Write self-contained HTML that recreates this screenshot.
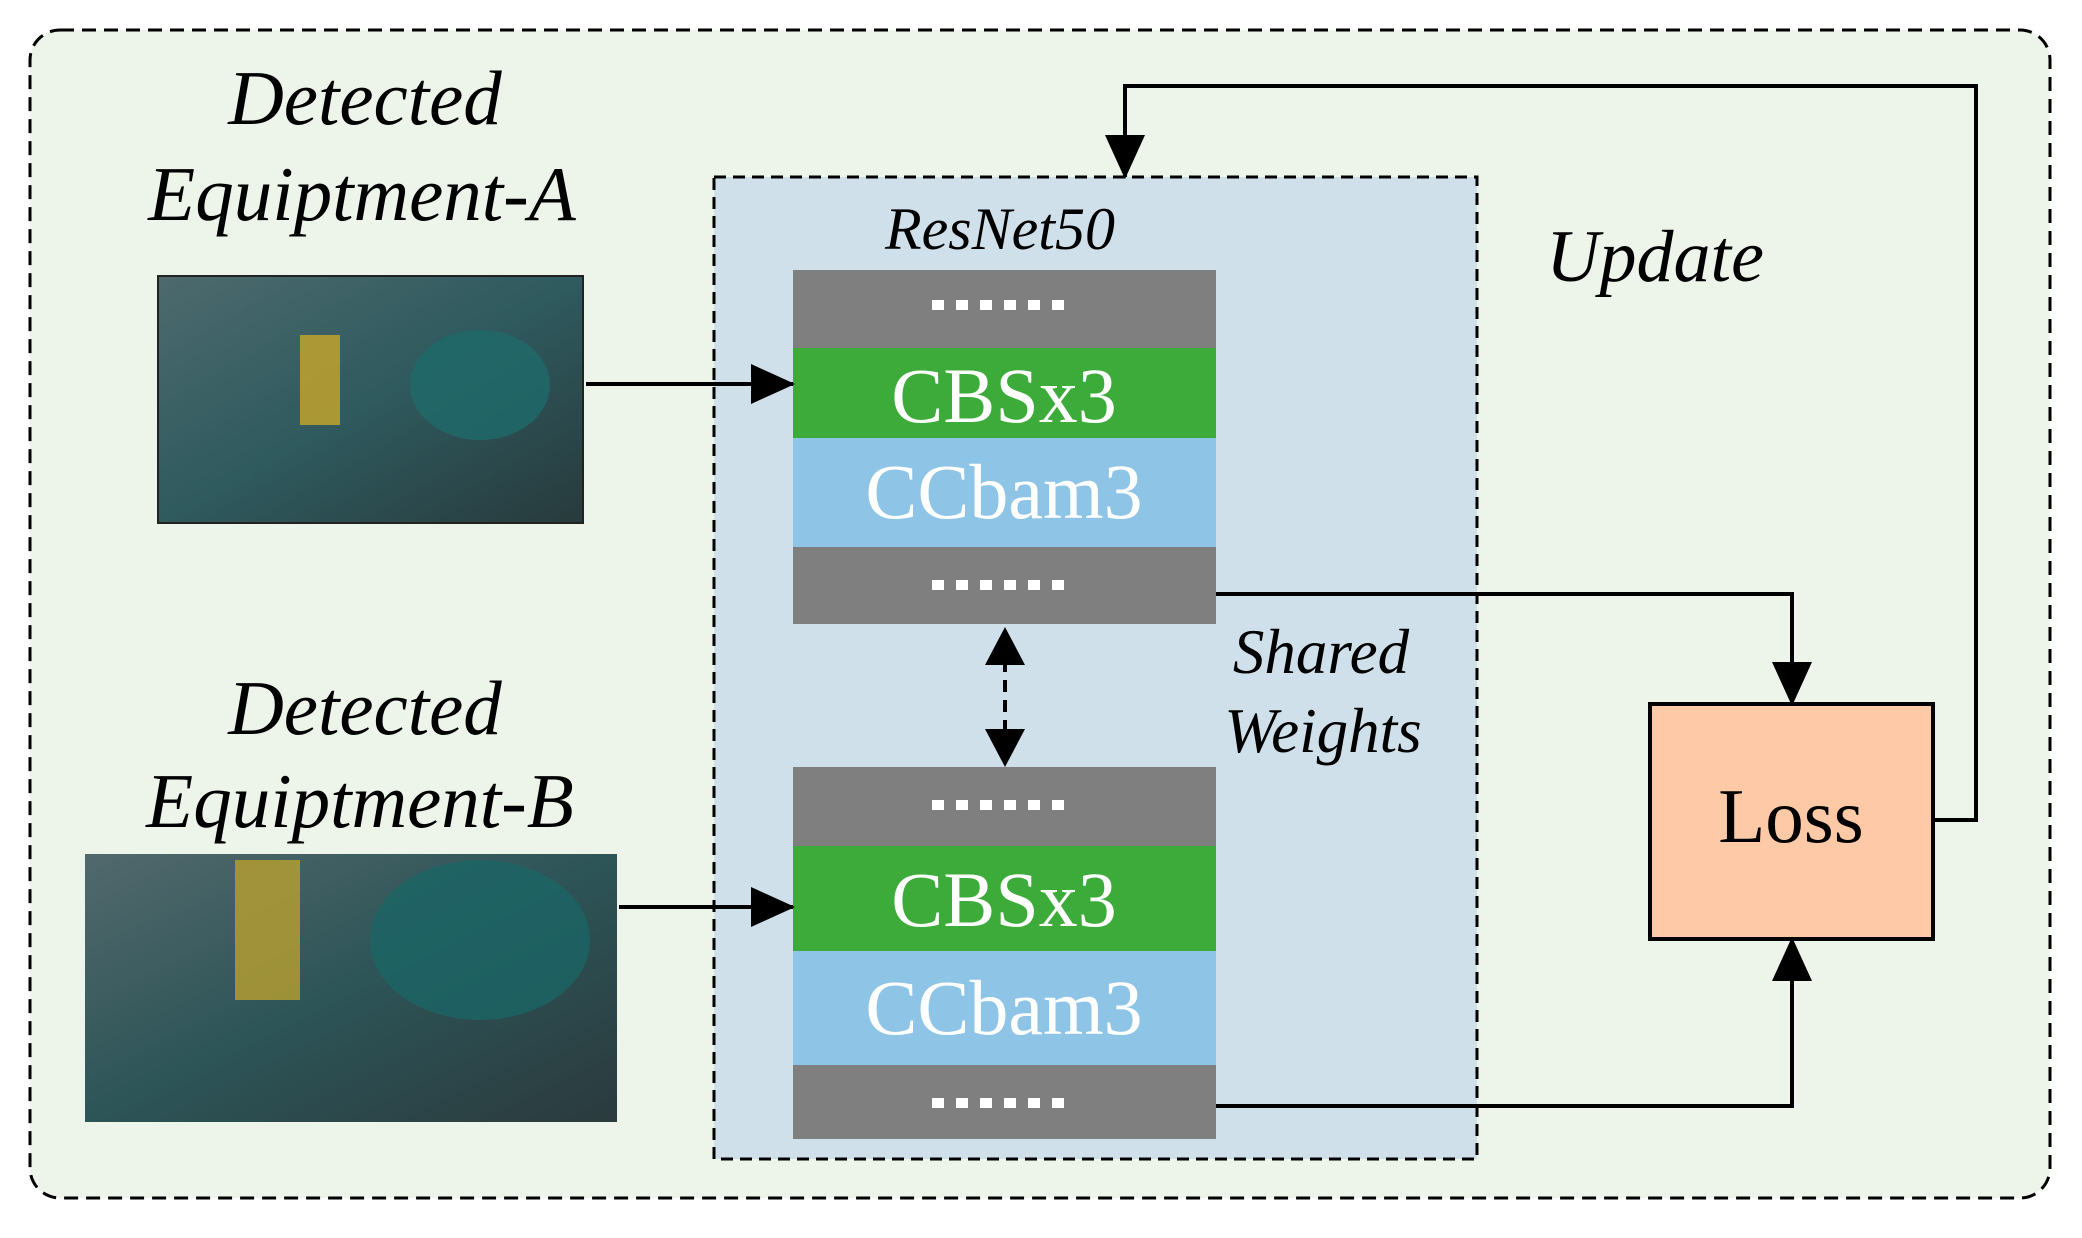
<!DOCTYPE html>
<html><head><meta charset="utf-8"><style>
body{margin:0;background:#fff}
svg text{font-family:"Liberation Serif",serif}
</style></head><body>
<svg width="2082" height="1233" viewBox="0 0 2082 1233" xmlns="http://www.w3.org/2000/svg">
<defs>
<marker id="ah" markerWidth="44" markerHeight="40" refX="42" refY="20" orient="auto" markerUnits="userSpaceOnUse" viewBox="0 0 44 40"><path d="M0,0 L44,20 L0,40 z" fill="#000"/></marker>
<linearGradient id="imgA" x1="0" y1="0" x2="1" y2="1"><stop offset="0" stop-color="#4d6a6e"/><stop offset="0.5" stop-color="#2f5a5e"/><stop offset="1" stop-color="#283a3c"/></linearGradient>
<linearGradient id="imgB" x1="0" y1="0" x2="1" y2="1"><stop offset="0" stop-color="#52696c"/><stop offset="0.5" stop-color="#2d5457"/><stop offset="1" stop-color="#2b3a3d"/></linearGradient>
</defs>
<rect x="30" y="30" width="2020" height="1168" rx="30" fill="#edf5ea" stroke="#000" stroke-width="3" stroke-dasharray="14,8"/>
<rect x="714" y="177" width="763" height="982" fill="#cfe0ea" stroke="#000" stroke-width="3" stroke-dasharray="12,7"/>
<rect x="158" y="276" width="425" height="247" fill="url(#imgA)" stroke="#222" stroke-width="2"/>
<rect x="300" y="335" width="40" height="90" fill="#c9a72a" opacity="0.8"/>
<ellipse cx="480" cy="385" rx="70" ry="55" fill="#1f6a6a" opacity="0.8"/>
<rect x="85" y="854" width="532" height="268" fill="url(#imgB)"/>
<rect x="235" y="860" width="65" height="140" fill="#b9a030" opacity="0.8"/>
<ellipse cx="480" cy="940" rx="110" ry="80" fill="#1c6565" opacity="0.8"/>
<rect x="793" y="270" width="423" height="78" fill="#7f7f7f"/>
<rect x="793" y="348" width="423" height="90" fill="#3dab3a"/>
<rect x="793" y="438" width="423" height="109" fill="#8ec4e6"/>
<rect x="793" y="547" width="423" height="77" fill="#7f7f7f"/>
<rect x="793" y="767" width="423" height="79" fill="#7f7f7f"/>
<rect x="793" y="846" width="423" height="105" fill="#3dab3a"/>
<rect x="793" y="951" width="423" height="114" fill="#8ec4e6"/>
<rect x="793" y="1065" width="423" height="74" fill="#7f7f7f"/>
<g fill="#fff">
<g id="dots"><rect x="932" y="300" width="12" height="10"/><rect x="956" y="300" width="12" height="10"/><rect x="980" y="300" width="12" height="10"/><rect x="1004" y="300" width="12" height="10"/><rect x="1028" y="300" width="12" height="10"/><rect x="1052" y="300" width="12" height="10"/></g>
<use href="#dots" y="280"/><use href="#dots" y="500"/><use href="#dots" y="798"/>
</g>
<g fill="#fff" font-size="78" text-anchor="middle">
<text x="1004" y="422">CBSx3</text><text x="1004" y="518">CCbam3</text>
<text x="1004" y="926">CBSx3</text><text x="1004" y="1034">CCbam3</text>
</g>
<rect x="1650" y="704" width="283" height="235" fill="#fdc9a6" stroke="#000" stroke-width="4"/>
<text x="1791" y="842" font-size="77" text-anchor="middle">Loss</text>
<g font-style="italic" text-anchor="middle">
<text x="365" y="124" font-size="77">Detected</text>
<text x="362" y="220" font-size="77">Equiptment-A</text>
<text x="365" y="734" font-size="77">Detected</text>
<text x="360" y="827" font-size="77">Equiptment-B</text>
<text x="1000" y="249" font-size="60">ResNet50</text>
<text x="1655" y="281" font-size="74">Update</text>
<text x="1321" y="673" font-size="63">Shared</text>
<text x="1323" y="752" font-size="63">Weights</text>
</g>
<g stroke="#000" stroke-width="4" fill="none">
<line x1="586" y1="384" x2="793" y2="384" marker-end="url(#ah)"/>
<line x1="619" y1="907" x2="793" y2="907" marker-end="url(#ah)"/>
<polyline points="1216,594 1792,594 1792,704" marker-end="url(#ah)"/>
<polyline points="1216,1106 1792,1106 1792,939" marker-end="url(#ah)"/>
<polyline points="1933,820 1976,820 1976,86 1125,86 1125,177" marker-end="url(#ah)"/>
<line x1="1005" y1="660" x2="1005" y2="735" stroke-dasharray="12,8"/>
</g>
<path d="M1005,627 L985,665 L1025,665 z" fill="#000"/>
<path d="M1005,767 L985,729 L1025,729 z" fill="#000"/>
</svg>
</body></html>
